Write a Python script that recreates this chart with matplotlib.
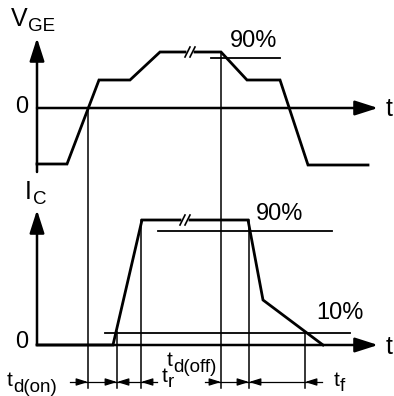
import matplotlib
matplotlib.use("Agg")
import matplotlib.pyplot as plt

# IGBT switching time diagram, drawn in pixel coordinates of the 394x396 image

# V_GE waveform (x, y) in px
vge_x = [37, 67, 99, 130, 160, 221, 247, 280, 308, 368]
vge_y = [164, 164, 80, 80, 52, 52, 80, 80, 165, 165]

# I_C waveform
ic_x = [37, 113, 142, 248, 263, 323]
ic_y = [345, 345, 220, 220, 300, 345]

# axes: origin y and arrow tips
top_axis_y = 108
bot_axis_y = 345
axis_x = 37
vge_arrow_y = (172, 38)
ic_arrow_y = (345, 210)
t_arrow_x = (37, 378)

# reference levels (x0, x1, y)
lvl90_top = (211, 280, 58)
lvl90_bot = (158, 332, 231)
lvl10_bot = (105, 350, 333)

# vertical marker lines (x, y_top, y_bottom)
vlines = [(88, 108, 388), (117, 332, 388), (141, 220, 388),
          (221, 52, 388), (249, 220, 388), (305, 332, 388)]

# timing arrows row
tline_y = 382
tline_segs = [(70, 157), (205, 322)]
tarrows = [(88, 1), (117, 1), (117, -1), (141, -1),
           (221, 1), (249, 1), (249, -1), (305, -1)]

# break marks on the flat tops (x, y)
breaks = [(190, 52), (185, 220)]

plt.rcParams['font.family'] = ['Liberation Sans', 'DejaVu Sans']

fig = plt.figure(figsize=(3.94, 3.96), dpi=100)
ax = fig.add_axes([0, 0, 1, 1])
ax.set_xlim(0, 394)
ax.set_ylim(396, 0)
ax.axis('off')

k = 'black'
lw_main = 2.0
lw_thin = 1.1

def arrow(x0, y0, x1, y1, hl=1.0, hw=0.32, ms=14, lw=1.8):
    ax.annotate('', xy=(x1, y1), xytext=(x0, y0),
                arrowprops=dict(arrowstyle='-|>,head_length=%g,head_width=%g' % (hl, hw),
                                mutation_scale=ms, lw=lw, color=k,
                                shrinkA=0, shrinkB=0))

# axes
arrow(axis_x, vge_arrow_y[0], axis_x, vge_arrow_y[1])
arrow(axis_x, ic_arrow_y[0], axis_x, ic_arrow_y[1])
arrow(t_arrow_x[0], top_axis_y, t_arrow_x[1], top_axis_y)
arrow(t_arrow_x[0], bot_axis_y, t_arrow_x[1], bot_axis_y)

# waveforms with a gap for the break marks
def wave(xs, ys, brk):
    bx, by = brk
    left_x = [x for x in xs if x < bx] + [bx - 5]
    left_y = ys[:len(left_x) - 1] + [by]
    right_x = [bx + 5] + [x for x in xs if x > bx]
    right_y = [by] + ys[len(left_x) - 1:]
    ax.plot(left_x, left_y, color=k, lw=lw_main, solid_joinstyle='miter')
    ax.plot(right_x, right_y, color=k, lw=lw_main, solid_joinstyle='miter')
    for dx in (-2.5, 2.5):
        ax.plot([bx + dx - 2.5, bx + dx + 2.5], [by + 5, by - 5], color=k, lw=1.2)

wave(vge_x, vge_y, breaks[0])
wave(ic_x, ic_y, breaks[1])

# level lines
for x0, x1, y in (lvl90_top, lvl90_bot, lvl10_bot):
    ax.plot([x0, x1], [y, y], color=k, lw=lw_thin + 0.2)

for x, y0, y1 in vlines:
    ax.plot([x, x], [y0, y1], color=k, lw=lw_thin)

# timing row
for x0, x1 in tline_segs:
    ax.plot([x0, x1], [tline_y, tline_y], color=k, lw=0.9)
for x, d in tarrows:
    arrow(x - d * 9, tline_y, x, tline_y, hl=0.7, hw=0.22, ms=10, lw=0.9)

# text
def label(x, y, main, sub=None, fs=18, fs_sub=13, dx=1, dy=0.45):
    t = ax.text(x, y, main, fontsize=fs, ha='left', va='center', color=k)
    if sub:
        ax.annotate(sub, xy=(1, dy), xycoords=t, xytext=(dx, 0),
                    textcoords='offset points', fontsize=fs_sub,
                    ha='left', va='top', color=k)
    return t

label(11, 19, 'V', 'GE', fs=18, fs_sub=13.5, dx=0.5, dy=0.55)
label(25, 192, 'I', 'C', fs=18, fs_sub=13.5, dx=1, dy=0.55)
ax.text(22, 107, '0', fontsize=17, ha='center', va='center')
ax.text(22, 342, '0', fontsize=17, ha='center', va='center')
ax.text(389, 109, 't', fontsize=18, ha='center', va='center')
ax.text(389, 347, 't', fontsize=18, ha='center', va='center')
ax.text(254, 41, '90%', fontsize=17, ha='center', va='center')
ax.text(280, 214, '90%', fontsize=17, ha='center', va='center')
ax.text(340, 313, '10%', fontsize=17, ha='center', va='center')

label(7, 381, 't', 'd(on)', fs=15, fs_sub=13.5, dx=0, dy=0.6)
label(162, 376, 't', 'r', fs=15, fs_sub=13.5, dx=0, dy=0.6)
label(167, 361, 't', 'd(off)', fs=15, fs_sub=13.5, dx=0, dy=0.6)
label(334, 380, 't', 'f', fs=15, fs_sub=13.5, dx=0, dy=0.6)

fig.savefig('out.png', dpi=100, facecolor='white')
